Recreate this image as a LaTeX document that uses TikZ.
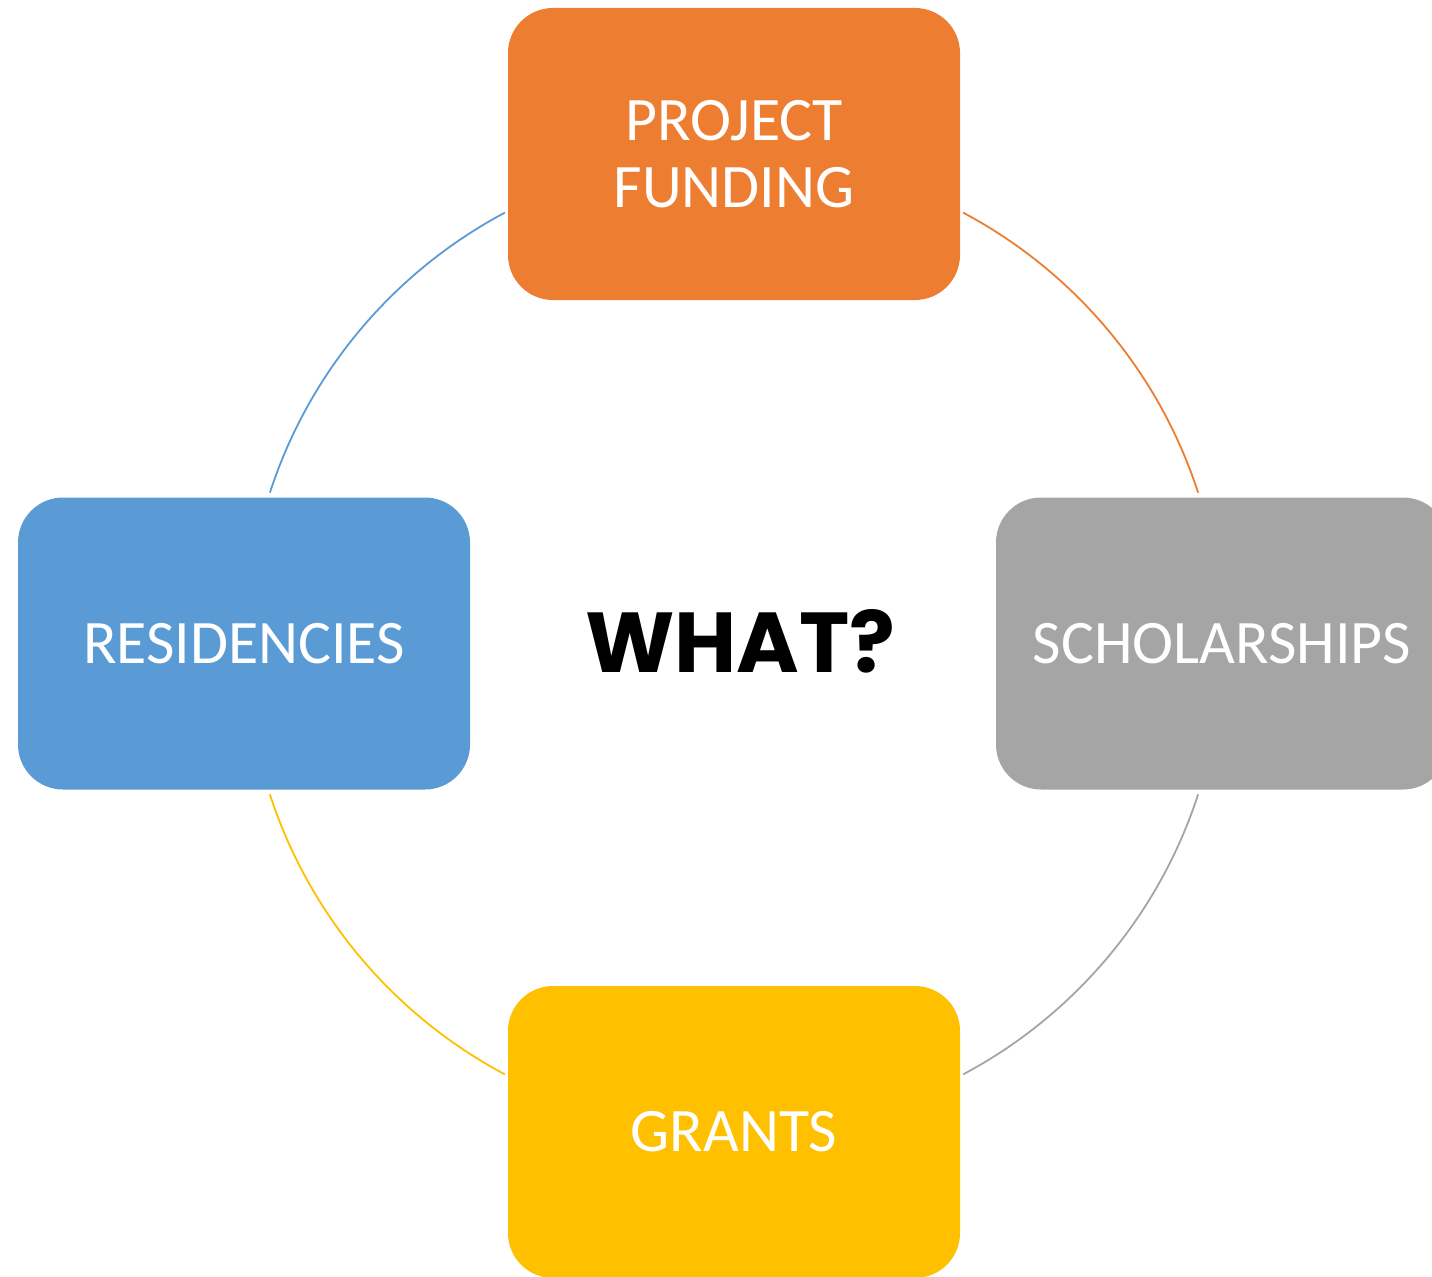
\documentclass[tikz,border=0pt]{standalone}
\usepackage{fontspec}
\usetikzlibrary{calc}
\setmainfont{Carlito}
\newfontfamily\whatfont{Poppins}
\definecolor{porange}{HTML}{ED7D31}
\definecolor{pblue}{HTML}{5B9BD5}
\definecolor{pgray}{HTML}{A5A5A5}
\definecolor{pyellow}{HTML}{FFC000}
\tikzset{
    card/.style={rounded corners=0.45cm, minimum width=4.52cm, minimum height=2.92cm,
        text=white, align=center, font=\fontsize{17.6}{19.1}\selectfont, inner sep=0pt},
    ring/.style={line width=0.18mm}
}
\begin{document}
\begin{tikzpicture}
    \useasboundingbox (0, 0) rectangle (14.32, -12.76);
    \clip (0, 0) rectangle (14.32, -12.76);

    % Centre of the ring
    \coordinate (c) at (7.34, -6.435);
    \node (what) at (7.405, -6.41) {\whatfont\bfseries\fontsize{24.2}{25}\selectfont WHAT?};

    % Draw ring
    \coordinate (tr) at ($(c) + (62:4.88)$);
    \coordinate (rb) at ($(c) + (-18:4.88)$);
    \coordinate (bl) at ($(c) + (-118:4.88)$);
    \coordinate (lt) at ($(c) + (162:4.88)$);
    \draw [ring, porange] (tr) arc [start angle=62, end angle=18, radius=4.88];
    \draw [ring, pgray] (rb) arc [start angle=-18, end angle=-62, radius=4.88];
    \draw [ring, pyellow] (bl) arc [start angle=-118, end angle=-162, radius=4.88];
    \draw [ring, pblue] (lt) arc [start angle=162, end angle=118, radius=4.88];

    % Draw cards
    \node [card, fill=porange] (project) at (7.34, -1.54) {PROJECT\\FUNDING};
    \node [card, fill=pblue] (residencies) at (2.44, -6.435) {RESIDENCIES};
    \node [card, fill=pgray] (scholarships) at (12.22, -6.435) {SCHOLARSHIPS};
    \node [card, fill=pyellow] (grants) at (7.34, -11.32) {GRANTS};

\end{tikzpicture}
\end{document}
